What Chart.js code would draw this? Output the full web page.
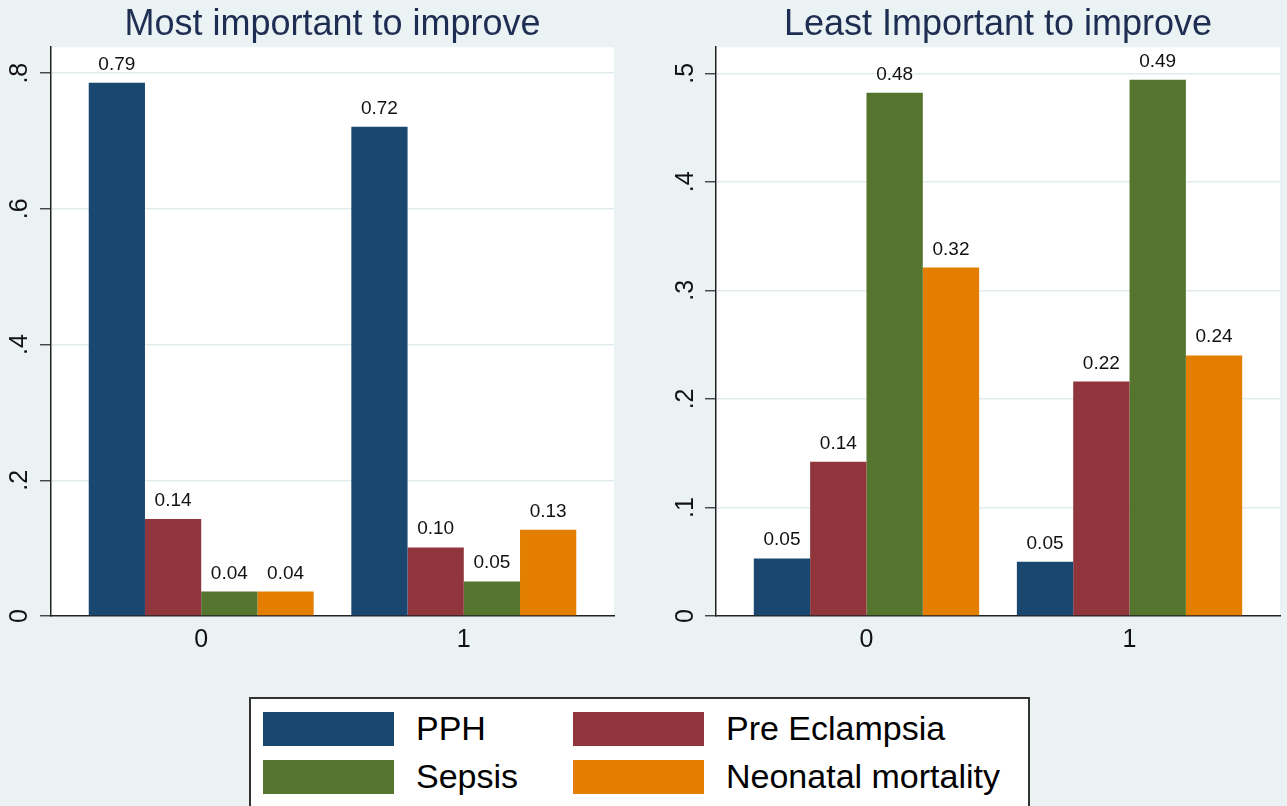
<!DOCTYPE html>
<html>
<head>
<meta charset="utf-8">
<script src="https://cdn.jsdelivr.net/npm/chart.js@4.4.0/dist/chart.umd.min.js"></script>
<style>
body { margin: 0; background: #eaf2f3; width: 1287px; height: 806px; overflow: hidden; position: relative; font-family: "Liberation Sans", Arial, sans-serif; }
canvas { position: absolute; top: 0; }
#most { left: 0; }
#least { left: 640px; }
#legend { position: absolute; left: 249px; top: 697px; width: 781px; height: 130px; background: #fff; border: 2px solid #333; box-sizing: border-box; }
.item { position: absolute; display: flex; align-items: center; font-size: 34px; color: #000; white-space: nowrap; }
.sw { width: 131px; height: 34px; margin-right: 22px; }
</style>
</head>
<body>
<canvas id="most" width="640" height="680"></canvas>
<canvas id="least" width="647" height="680"></canvas>
<div id="legend"></div>
<script>
var categories = ['0', '1'];
var seriesNames = ['PPH', 'Pre Eclampsia', 'Sepsis', 'Neonatal mortality'];
var seriesColors = ['#1a476f', '#90353b', '#55752f', '#e37e00'];

// Most important to improve
var mostPPH = [0.786, 0.721];
var mostPre = [0.143, 0.101];
var mostSepsis = [0.036, 0.051];
var mostNeo = [0.036, 0.127];
var mostTicks = [0, 0.2, 0.4, 0.6, 0.8];
var mostTickLabels = ['0', '.2', '.4', '.6', '.8'];

// Least important to improve
var leastPPH = [0.053, 0.050];
var leastPre = [0.142, 0.216];
var leastSepsis = [0.482, 0.494];
var leastNeo = [0.321, 0.240];
var leastTicks = [0, 0.1, 0.2, 0.3, 0.4, 0.5];
var leastTickLabels = ['0', '.1', '.2', '.3', '.4', '.5'];

var FONT = '"Liberation Sans", Arial, sans-serif';

// white plot region like stata
var plotBg = {
    id: 'plotBg',
    beforeDraw: function (chart) {
        var a = chart.chartArea, ctx = chart.ctx;
        ctx.save();
        ctx.fillStyle = '#ffffff';
        ctx.fillRect(a.left, a.top, a.right - a.left, a.bottom - a.top);
        ctx.restore();
    }
};

// numbers above the bars
var barValues = {
    id: 'barValues',
    afterDatasetsDraw: function (chart) {
        var ctx = chart.ctx;
        ctx.save();
        ctx.font = '19px ' + FONT;
        ctx.fillStyle = '#111';
        ctx.textAlign = 'center';
        chart.data.datasets.forEach(function (ds, i) {
            chart.getDatasetMeta(i).data.forEach(function (bar, j) {
                ctx.fillText(ds.data[j].y.toFixed(2), bar.x, bar.y - 13);
            });
        });
        ctx.restore();
    }
};

// rotated y tick labels
var yLabels = {
    id: 'yLabels',
    afterDraw: function (chart, args, opts) {
        var scale = chart.scales.y, ctx = chart.ctx;
        ctx.save();
        ctx.font = '25px ' + FONT;
        ctx.fillStyle = '#111';
        ctx.textAlign = 'center';
        ctx.textBaseline = 'middle';
        opts.values.forEach(function (v, k) {
            ctx.save();
            ctx.translate(opts.x, scale.getPixelForValue(v));
            ctx.rotate(-Math.PI / 2);
            ctx.fillText(opts.labels[k], 0, 0);
            ctx.restore();
        });
        ctx.restore();
    }
};

function makeDatasets(series) {
    return series.map(function (vals, i) {
        return {
            label: seriesNames[i],
            data: vals.map(function (v, j) { return { x: Number(categories[j]), y: v }; }),
            backgroundColor: seriesColors[i],
            borderWidth: 0,
            categoryPercentage: 0.8566,
            barPercentage: 1
        };
    });
}

function makeChart(id, title, series, ticks, tickLabels, yMax, axisWidth, padRight, labelX) {
    return new Chart(document.getElementById(id), {
        type: 'bar',
        data: { datasets: makeDatasets(series) },
        plugins: [plotBg, barValues, yLabels],
        options: {
            responsive: false,
            animation: false,
            devicePixelRatio: 1,
            layout: { autoPadding: false, padding: { left: 0, right: padRight, top: 0, bottom: 0 } },
            plugins: {
                legend: { display: false },
                tooltip: { enabled: false },
                title: {
                    display: true,
                    text: title,
                    fullSize: false,
                    color: '#1e2d52',
                    font: { family: FONT, size: 36, weight: 'normal' },
                    padding: { top: 3, bottom: 1 }
                },
                yLabels: { values: ticks, labels: tickLabels, x: labelX }
            },
            scales: {
                x: {
                    type: 'linear',
                    min: -0.572,
                    max: 1.572,
                    offset: false,
                    afterBuildTicks: function (s) {
                        s.ticks = categories.map(function (c) { return { value: Number(c) }; });
                    },
                    afterFit: function (s) { s.height = 64; },
                    grid: { display: false, drawTicks: false },
                    border: { display: true, color: '#222', width: 1.5 },
                    ticks: {
                        padding: 9,
                        color: '#111',
                        font: { family: FONT, size: 25 },
                        callback: function (v) { return categories[v]; }
                    }
                },
                y: {
                    min: 0,
                    max: yMax,
                    afterBuildTicks: function (s) {
                        s.ticks = ticks.map(function (v) { return { value: v }; });
                    },
                    afterFit: function (s) { s.width = axisWidth; },
                    grid: {
                        color: function (c) { return c.tick && c.tick.value === 0 ? 'rgba(0,0,0,0)' : '#e2ecef'; },
                        lineWidth: 1.5,
                        drawTicks: true,
                        tickLength: 11,
                        tickColor: '#333',
                        tickWidth: 1.3
                    },
                    border: { display: true, color: '#222', width: 1.5 },
                    ticks: { display: false }
                }
            }
        }
    });
}

makeChart('most', 'Most important to improve',
    [mostPPH, mostPre, mostSepsis, mostNeo], mostTicks, mostTickLabels, 0.8383, 51, 26, 20);
makeChart('least', 'Least Important to improve',
    [leastPPH, leastPre, leastSepsis, leastNeo], leastTicks, leastTickLabels, 0.524, 76, 7, 46);

// legend box under both panels
var legend = document.getElementById('legend');
var cols = [12, 322], rows = [10, 58];
seriesNames.forEach(function (name, i) {
    var item = document.createElement('div');
    item.className = 'item';
    item.style.left = cols[i % 2] + 'px';
    item.style.top = rows[Math.floor(i / 2)] + 'px';
    item.innerHTML = '<div class="sw" style="background:' + seriesColors[i] + '"></div><span>' + name + '</span>';
    legend.appendChild(item);
});
</script>
</body>
</html>
